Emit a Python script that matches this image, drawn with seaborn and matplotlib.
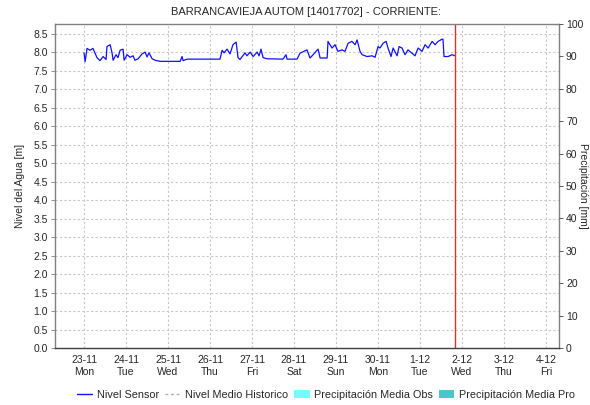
import matplotlib
matplotlib.use("Agg")
import matplotlib.pyplot as plt
from matplotlib.lines import Line2D
from matplotlib.patches import Patch
import pandas as pd
import seaborn as sns

# Sensor readings: hours since 2020-11-23 00:00 and water level [m]
hours = [0, 0.6, 1.7, 3.4, 5.1, 7.4, 9.1, 10.9, 12.6, 13.1, 14.9, 16, 16.6, 18.3,
         19.4, 20.6, 22.3, 22.9, 24.6, 26.3, 28, 29.1, 30.9, 33.1, 34.9, 36, 37.1,
         38.9, 40.6, 43.4, 54.9, 56, 56.6, 58.9, 77.7, 78.9, 80, 81.7, 83.4, 85.1,
         86.9, 88, 89.1, 92, 93.1, 94.9, 96.6, 98.9, 100, 101.1, 102.3, 104.6,
         113.7, 115.4, 116, 121.7, 123.4, 127.4, 129.1, 130.9, 133.7, 134.9, 138.9,
         139.4, 141.7, 143.4, 145.1, 147.4, 149.1, 150.9, 153.1, 154.9, 156, 157.7,
         158.9, 161.7, 164.6, 166.3, 168, 169.1, 170.9, 172.6, 173.7, 175.4, 176.6,
         178.9, 180, 181.7, 183.4, 185.1, 187.4, 189.1, 190.9, 193.1, 194.9, 196.6,
         198.9, 200.6, 202.3, 204.6, 205.1, 205.7, 208, 210.3, 212]
nivel = [7.98, 7.74, 8.10, 8.05, 8.10, 7.85, 7.77, 7.88, 7.80, 8.15, 8.20, 7.98, 7.78,
         7.93, 7.85, 8.05, 8.08, 7.78, 7.93, 7.86, 7.90, 7.78, 7.82, 7.95, 8.00, 7.87,
         7.98, 7.82, 7.78, 7.75, 7.75, 7.88, 7.77, 7.81, 7.81, 8.05, 7.98, 8.08, 7.95,
         8.20, 8.27, 7.85, 7.80, 7.98, 7.90, 8.00, 7.88, 8.00, 7.90, 8.08, 7.85, 7.82,
         7.81, 7.93, 7.81, 7.81, 7.97, 8.06, 7.84, 7.93, 8.08, 7.84, 7.84, 8.29, 8.11,
         8.20, 8.02, 8.06, 8.02, 8.24, 8.29, 8.20, 8.33, 8.02, 7.93, 7.88, 7.90, 7.86,
         8.15, 8.11, 8.24, 8.29, 8.11, 7.88, 8.11, 7.90, 8.15, 8.11, 7.93, 8.06, 7.97,
         7.90, 8.11, 8.02, 8.20, 8.11, 8.29, 8.20, 8.29, 8.35, 8.35, 7.88, 7.88, 7.93,
         7.90]

day_labels = ["23-11\nMon", "24-11\nTue", "25-11\nWed", "26-11\nThu", "27-11\nFri",
              "28-11\nSat", "29-11\nSun", "30-11\nMon", "1-12\nTue", "2-12\nWed",
              "3-12\nThu", "4-12\nFri"]
level_ticks = [0.0, 0.5, 1.0, 1.5, 2.0, 2.5, 3.0, 3.5, 4.0, 4.5, 5.0, 5.5, 6.0, 6.5,
               7.0, 7.5, 8.0, 8.5]
precip_ticks = [0, 10, 20, 30, 40, 50, 60, 70, 80, 90, 100]

start = pd.Timestamp("2020-11-23 00:00")
df = pd.DataFrame({
    "fecha": start + pd.to_timedelta(hours, unit="h"),
    "nivel": nivel,
})
now_mark = df["fecha"].iloc[-1]

sns.set_style("white")
plt.rcParams["font.family"] = ["Liberation Sans", "DejaVu Sans"]

fig = plt.figure(figsize=(5.9, 4.05), dpi=100)
ax = fig.add_axes([55 / 590, 57 / 405, 504 / 590, 324 / 405])

sns.lineplot(data=df, x="fecha", y="nivel", ax=ax, color="#1010ff", linewidth=0.9,
             estimator=None)

ax.set_xlim(start - pd.Timedelta(hours=16.6), start + pd.Timedelta(hours=271.4))
ax.set_ylim(0, 8.76)

day_ticks = [start + pd.Timedelta(days=i) for i in range(len(day_labels))]
ax.set_xticks(day_ticks)
ax.set_xticklabels(day_labels, fontsize=7.5, linespacing=1.3)
ax.set_yticks(level_ticks)
ax.set_yticklabels([f"{v:.1f}" for v in level_ticks], fontsize=7.5)
ax.grid(True, color="#c8c8c8", linestyle=(0, (2, 2)), linewidth=0.8)
ax.set_axisbelow(True)
ax.tick_params(axis="both", length=3, width=0.6, color="#808080", pad=2)
ax.set_xlabel("")
ax.set_ylabel("Nivel del Agua [m]", fontsize=7.5, labelpad=6)

for side in ["left", "top", "right"]:
    ax.spines[side].set_color("#808080")
    ax.spines[side].set_linewidth(1.0)
ax.spines["bottom"].set_color("#404040")
ax.spines["bottom"].set_linestyle((0, (1, 1)))
ax.spines["bottom"].set_linewidth(1.0)

ax.axvline(now_mark, color="#e03030", linewidth=1.0)

ax2 = ax.twinx()
ax2.set_ylim(0, 100)
ax2.set_yticks(precip_ticks)
ax2.set_yticklabels([str(v) for v in precip_ticks], fontsize=7.5)
ax2.tick_params(axis="y", length=3, width=0.6, color="#404040", pad=2)
for side in ["left", "top", "right", "bottom"]:
    ax2.spines[side].set_visible(False)
ax2.grid(False)

fig.text(578 / 590, 0.54, "Precipitación [mm]", rotation=270,
         fontsize=7.5, ha="left", va="center")

fig.text(306 / 590, 1 - 12 / 405, "BARRANCAVIEJA AUTOM [14017702] - CORRIENTE:",
         fontsize=8, ha="center", va="center")

handles = [
    Line2D([0], [0], color="#1010ff", linewidth=1.0),
    Line2D([0], [0], color="#b0b0b0", linewidth=1.0, linestyle=(0, (2, 2))),
    Patch(facecolor="#70ffff", edgecolor="none"),
    Patch(facecolor="#48c8c8", edgecolor="none"),
]
labels = ["Nivel Sensor", "Nivel Medio Historico", "Precipitación Media Obs",
          "Precipitación Media Pro"]
fig.legend(handles, labels, loc="center", bbox_to_anchor=(326 / 590, 1 - 395 / 405),
           ncol=4, frameon=False, fontsize=7.8, handlelength=1.4, handletextpad=0.4,
           columnspacing=0.6)

fig.savefig("out.png", dpi=100)
